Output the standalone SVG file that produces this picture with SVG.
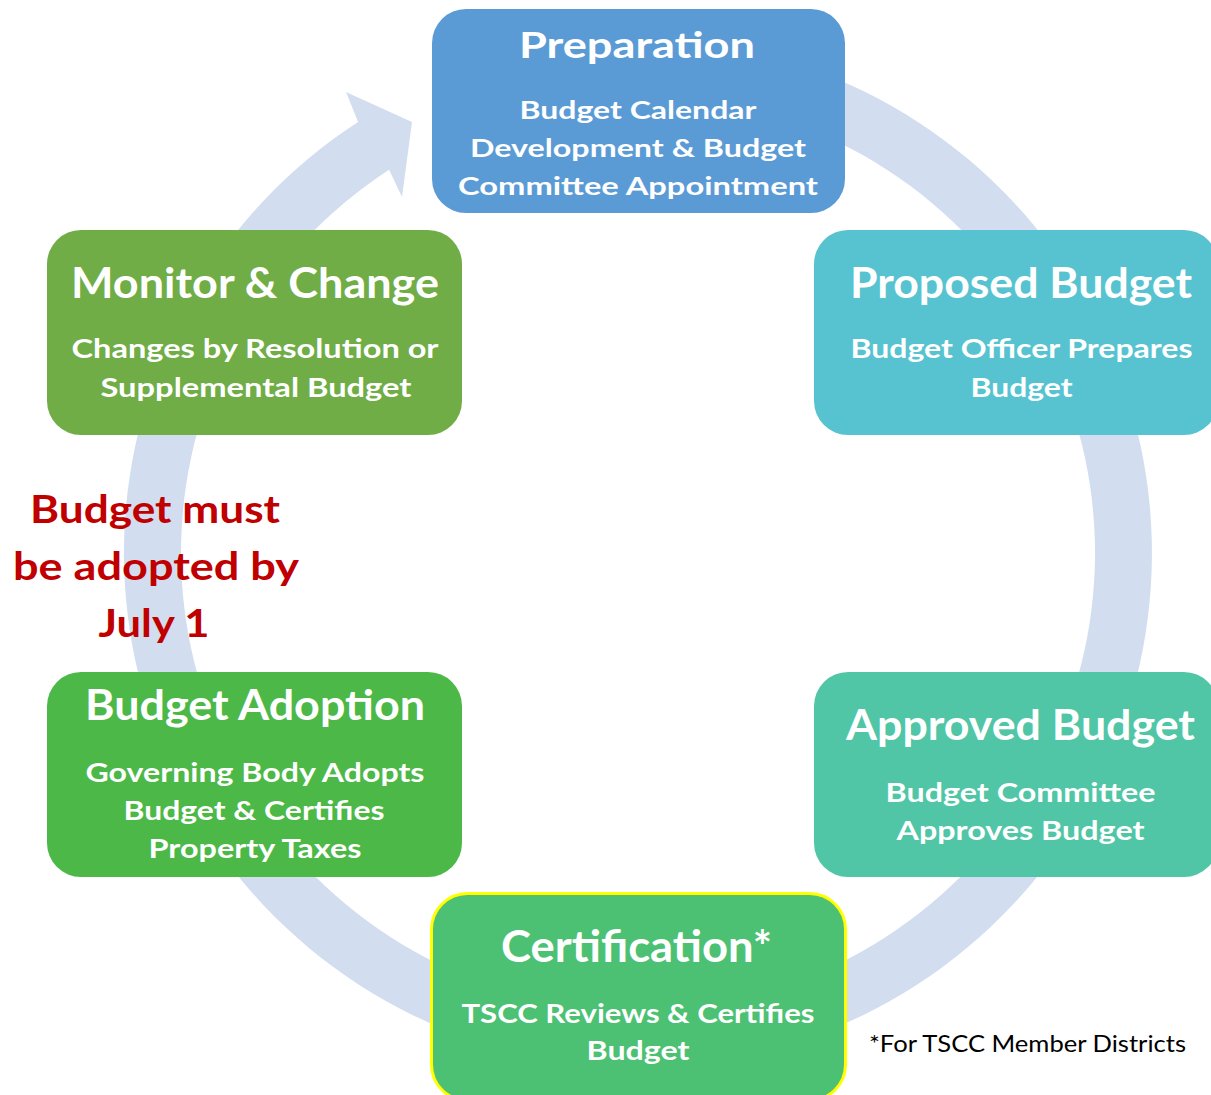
<svg xmlns="http://www.w3.org/2000/svg" width="1211" height="1095" viewBox="0 0 1211 1095">
<style>
  text { font-family: Lato, "Open Sans", "Liberation Sans", sans-serif; }
  .t { font-weight: 700; fill: #FFFFFF; text-anchor: middle; }
  .h { font-size: 42px; }
  .s { font-size: 27px; }
  .red { font-weight: 700; fill: #C00000; text-anchor: middle; font-size: 39px; }
  .note { font-size: 24px; fill: #000000; }
  .box { stroke: none; }
</style>
<rect x="0" y="0" width="1211" height="1095" fill="#FFFFFF"/>
<g id="connectors">
  <path d="M 593.2 41.0 A 514 514 0 1 1 358.1 121.9 L 346 92 L 412 122 L 402 197 L 389.1 169.7 A 457 457 0 1 0 598.2 97.7 Z" fill="#D2DEEF"/>
</g>
<g id="preparation">
  <rect class="box" x="432" y="9" width="413" height="204" rx="34" fill="#5B9BD5"/>
  <text class="t" x="637" y="58" font-size="37" textLength="236" lengthAdjust="spacingAndGlyphs">Preparation</text>
  <text class="t" x="638" y="119" font-size="25" textLength="237" lengthAdjust="spacingAndGlyphs">Budget Calendar</text>
  <text class="t" x="638" y="157" font-size="25" textLength="336" lengthAdjust="spacingAndGlyphs">Development &amp; Budget</text>
  <text class="t" x="638" y="195" font-size="25" textLength="360" lengthAdjust="spacingAndGlyphs">Committee Appointment</text>
</g>
<g id="proposed">
  <rect class="box" x="814" y="230" width="404" height="205" rx="34" fill="#57C3D0"/>
  <text class="t h" x="1021" y="298" textLength="342" lengthAdjust="spacingAndGlyphs">Proposed Budget</text>
  <text class="t s" x="1021.5" y="358" textLength="342" lengthAdjust="spacingAndGlyphs">Budget Officer Prepares</text>
  <text class="t s" x="1021.5" y="397" textLength="102" lengthAdjust="spacingAndGlyphs">Budget</text>
</g>
<g id="approved">
  <rect class="box" x="814" y="672" width="404" height="205" rx="34" fill="#50C6A6"/>
  <text class="t h" x="1020.5" y="740" textLength="349" lengthAdjust="spacingAndGlyphs">Approved Budget</text>
  <text class="t s" x="1020.5" y="802" textLength="270" lengthAdjust="spacingAndGlyphs">Budget Committee</text>
  <text class="t s" x="1020.5" y="840" textLength="248" lengthAdjust="spacingAndGlyphs">Approves Budget</text>
</g>
<g id="certification">
  <rect x="431.5" y="893.5" width="414" height="207" rx="36" fill="#4CC174" stroke="#FFFF00" stroke-width="3"/>
  <text class="t" x="636.5" y="962" font-size="43" textLength="271" lengthAdjust="spacingAndGlyphs">Certification*</text>
  <text class="t s" x="638" y="1023" textLength="353" lengthAdjust="spacingAndGlyphs">TSCC Reviews &amp; Certifies</text>
  <text class="t s" x="638" y="1060" textLength="103" lengthAdjust="spacingAndGlyphs">Budget</text>
</g>
<g id="adoption">
  <rect class="box" x="47" y="672" width="415" height="205" rx="34" fill="#4CB848"/>
  <text class="t h" x="255" y="720" textLength="340" lengthAdjust="spacingAndGlyphs">Budget Adoption</text>
  <text class="t s" x="255" y="782" textLength="339" lengthAdjust="spacingAndGlyphs">Governing Body Adopts</text>
  <text class="t s" x="254" y="820" textLength="261" lengthAdjust="spacingAndGlyphs">Budget &amp; Certifies</text>
  <text class="t s" x="255" y="858" textLength="213" lengthAdjust="spacingAndGlyphs">Property Taxes</text>
</g>
<g id="monitor">
  <rect class="box" x="47" y="230" width="415" height="205" rx="34" fill="#70AD47"/>
  <text class="t h" x="255" y="298" textLength="368" lengthAdjust="spacingAndGlyphs">Monitor &amp; Change</text>
  <text class="t s" x="255" y="358" textLength="367" lengthAdjust="spacingAndGlyphs">Changes by Resolution or</text>
  <text class="t s" x="256" y="397" textLength="311" lengthAdjust="spacingAndGlyphs">Supplemental Budget</text>
</g>
<g id="deadline">
  <text class="red" x="155" y="523" textLength="250" lengthAdjust="spacingAndGlyphs">Budget must</text>
  <text class="red" x="156" y="580" textLength="286" lengthAdjust="spacingAndGlyphs">be adopted by</text>
  <text class="red" x="154" y="637" textLength="111" lengthAdjust="spacingAndGlyphs">July 1</text>
</g>
<g id="footnote">
  <text class="note" x="869" y="1052" textLength="317" lengthAdjust="spacingAndGlyphs">*For TSCC Member Districts</text>
</g>
</svg>
